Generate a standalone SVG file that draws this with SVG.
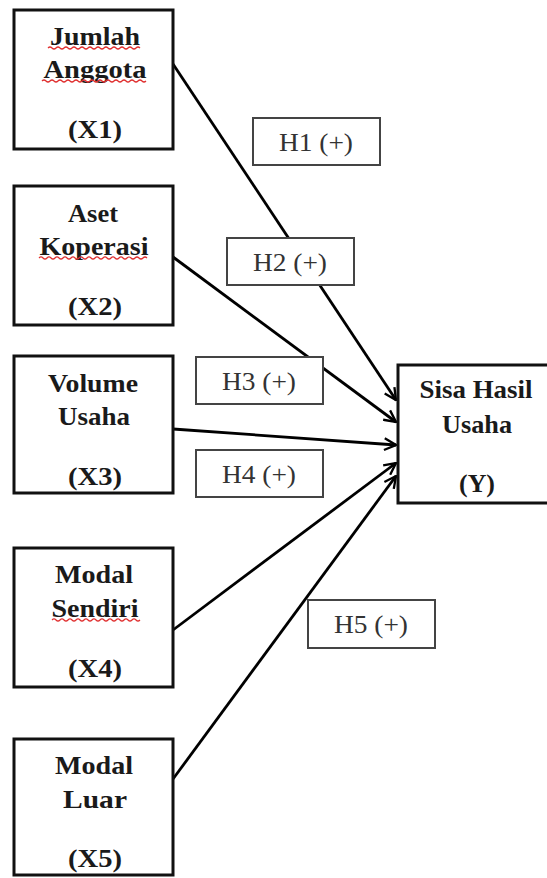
<svg xmlns="http://www.w3.org/2000/svg" width="547" height="878" viewBox="0 0 547 878">
<style>
.node{fill:#fff;stroke:#111;stroke-width:3}
.lbl{fill:#fff;stroke:#444;stroke-width:2}
.t{font-family:"Liberation Serif","Times New Roman",serif;font-weight:bold;font-size:25px;fill:#1a1a1a;text-anchor:middle}
.h{font-family:"Liberation Serif","Times New Roman",serif;font-size:25px;fill:#333;text-anchor:middle}
.edge{stroke:#000;stroke-width:2.8;fill:none;marker-end:url(#arr)}
.sq{stroke:#e03030;stroke-width:1.2;fill:none}
</style>
<defs>
<marker id="arr" viewBox="0 0 12 12" refX="11" refY="6" markerWidth="5" markerHeight="5" orient="auto" markerUnits="strokeWidth">
<path d="M1,1 L11,6 L1,11" fill="none" stroke="#000" stroke-width="2"/>
</marker>
</defs>
<rect width="547" height="878" fill="#fff"/>
<g id="connectors">
<line class="edge" x1="173" y1="64" x2="396" y2="400"/>
<line class="edge" x1="173" y1="257" x2="396" y2="422"/>
<line class="edge" x1="173" y1="429" x2="396" y2="445"/>
<line class="edge" x1="173" y1="630" x2="396" y2="463"/>
<line class="edge" x1="173" y1="779" x2="396" y2="476"/>
</g>
<g id="X1">
<rect class="node" x="14" y="10" width="159" height="139"/>
<text class="t" x="95" y="45" textLength="90" lengthAdjust="spacingAndGlyphs">Jumlah</text>
<path class="sq" d="M48,48 q2,-2 4,0 t4,0 t4,0 t4,0 t4,0 t4,0 t4,0 t4,0 t4,0 t4,0 t4,0 t4,0 t4,0 t4,0 t4,0 t4,0 t4,0 t4,0 t4,0 t4,0 t4,0 t4,0 t4,0"/>
<text class="t" x="95" y="78" textLength="103" lengthAdjust="spacingAndGlyphs">Anggota</text>
<path class="sq" d="M42,81 q2,-2 4,0 t4,0 t4,0 t4,0 t4,0 t4,0 t4,0 t4,0 t4,0 t4,0 t4,0 t4,0 t4,0 t4,0 t4,0 t4,0 t4,0 t4,0 t4,0 t4,0 t4,0 t4,0 t4,0 t4,0 t4,0 t4,0"/>
<text class="t" x="95" y="138" textLength="54" lengthAdjust="spacingAndGlyphs">(X1)</text>
</g>
<g id="X2">
<rect class="node" x="14" y="186" width="159" height="139"/>
<text class="t" x="93" y="222" textLength="50" lengthAdjust="spacingAndGlyphs">Aset</text>
<text class="t" x="94" y="255" textLength="109" lengthAdjust="spacingAndGlyphs">Koperasi</text>
<path class="sq" d="M39,258 q2,-2 4,0 t4,0 t4,0 t4,0 t4,0 t4,0 t4,0 t4,0 t4,0 t4,0 t4,0 t4,0 t4,0 t4,0 t4,0 t4,0 t4,0 t4,0 t4,0 t4,0 t4,0 t4,0 t4,0 t4,0 t4,0 t4,0 t4,0"/>
<text class="t" x="95" y="315" textLength="54" lengthAdjust="spacingAndGlyphs">(X2)</text>
</g>
<g id="X3">
<rect class="node" x="14" y="356" width="159" height="137"/>
<text class="t" x="93" y="392" textLength="90" lengthAdjust="spacingAndGlyphs">Volume</text>
<text class="t" x="94" y="425" textLength="72" lengthAdjust="spacingAndGlyphs">Usaha</text>
<text class="t" x="95" y="485" textLength="54" lengthAdjust="spacingAndGlyphs">(X3)</text>
</g>
<g id="X4">
<rect class="node" x="14" y="548" width="159" height="139"/>
<text class="t" x="94" y="583" textLength="78" lengthAdjust="spacingAndGlyphs">Modal</text>
<text class="t" x="95" y="617" textLength="87" lengthAdjust="spacingAndGlyphs">Sendiri</text>
<path class="sq" d="M52,620 q2,-2 4,0 t4,0 t4,0 t4,0 t4,0 t4,0 t4,0 t4,0 t4,0 t4,0 t4,0 t4,0 t4,0 t4,0 t4,0 t4,0 t4,0 t4,0 t4,0 t4,0 t4,0 t4,0"/>
<text class="t" x="95" y="677" textLength="54" lengthAdjust="spacingAndGlyphs">(X4)</text>
</g>
<g id="X5">
<rect class="node" x="14" y="739" width="159" height="136"/>
<text class="t" x="94" y="774" textLength="78" lengthAdjust="spacingAndGlyphs">Modal</text>
<text class="t" x="95" y="808" textLength="64" lengthAdjust="spacingAndGlyphs">Luar</text>
<text class="t" x="95" y="867" textLength="54" lengthAdjust="spacingAndGlyphs">(X5)</text>
</g>
<g id="Y">
<rect class="node" x="398" y="365" width="160" height="138"/>
<text class="t" x="476" y="398" textLength="113" lengthAdjust="spacingAndGlyphs">Sisa Hasil</text>
<text class="t" x="477" y="433" textLength="70" lengthAdjust="spacingAndGlyphs">Usaha</text>
<text class="t" x="477" y="492" textLength="36" lengthAdjust="spacingAndGlyphs">(Y)</text>
</g>
<g id="H1">
<rect class="lbl" x="253" y="118" width="127" height="47"/>
<text class="h" x="316" y="151" textLength="74" lengthAdjust="spacingAndGlyphs">H1 (+)</text>
</g>
<g id="H2">
<rect class="lbl" x="227" y="238" width="127" height="47"/>
<text class="h" x="290" y="271" textLength="74" lengthAdjust="spacingAndGlyphs">H2 (+)</text>
</g>
<g id="H3">
<rect class="lbl" x="196" y="357" width="127" height="47"/>
<text class="h" x="259" y="390" textLength="74" lengthAdjust="spacingAndGlyphs">H3 (+)</text>
</g>
<g id="H4">
<rect class="lbl" x="196" y="450" width="127" height="47"/>
<text class="h" x="259" y="483" textLength="74" lengthAdjust="spacingAndGlyphs">H4 (+)</text>
</g>
<g id="H5">
<rect class="lbl" x="308" y="600" width="127" height="48"/>
<text class="h" x="371" y="633" textLength="74" lengthAdjust="spacingAndGlyphs">H5 (+)</text>
</g>
</svg>
